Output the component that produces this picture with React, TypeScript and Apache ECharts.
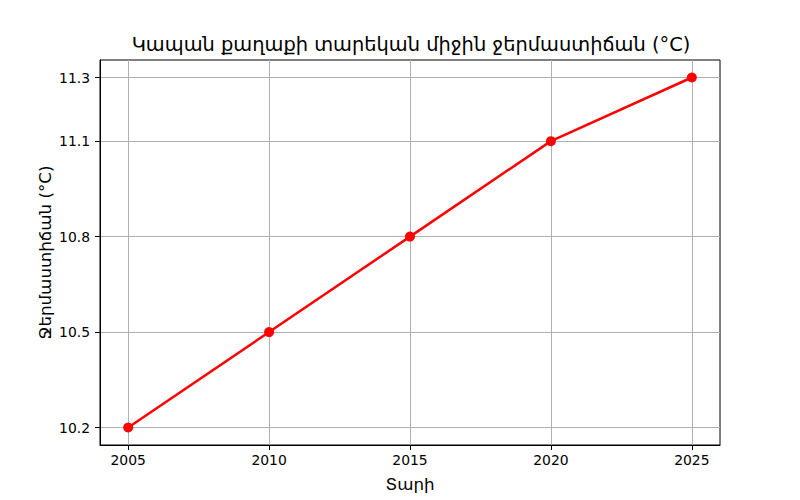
import React, { useEffect, useRef } from "react";
import * as echarts from "echarts";

const years = [2005, 2010, 2015, 2020, 2025];
const temps = [10.2, 10.5, 10.8, 11.1, 11.3];
const yTicks = [10.2, 10.5, 10.8, 11.1, 11.3];
const xTicks = [2005, 2010, 2015, 2020, 2025];
const titleText = "Կապան քաղաքի տարեկան միջին ջերմաստիճան (°C)";
const xName = "Տարի";
const yName = "Ջերմաստիճան (°C)";

const FONT = "DejaVu Sans";

export default function App() {
  const ref = useRef<HTMLDivElement>(null);
  useEffect(() => {
    if (!ref.current) return;
    const chart = echarts.init(ref.current, undefined, { renderer: "svg" });
    chart.setOption({
      animation: false,
      backgroundColor: "#fff",
      title: {
        text: titleText,
        left: 406,
        textAlign: "center",
        top: 30,
        textStyle: { fontFamily: FONT, fontSize: 19.4, fontWeight: "normal", color: "#000" },
      },
      grid: {
        left: 100,
        right: 80,
        top: 60,
        bottom: 55,
        outerBoundsMode: "none",
        show: true,
        borderColor: "#000",
        borderWidth: 1,
        backgroundColor: "transparent",
      },
      xAxis: {
        type: "value",
        min: 2004,
        max: 2026,
        name: xName,
        nameLocation: "middle",
        nameGap: 30,
        nameMoveOverlap: false,
        nameTextStyle: { fontFamily: FONT, fontSize: 16.7, color: "#000" },
        axisLine: { show: true, lineStyle: { color: "#000" } },
        axisTick: { show: true, length: 5, lineStyle: { color: "#000" }, customValues: xTicks },
        axisLabel: { fontFamily: FONT, fontSize: 13.9, color: "#000", margin: 8, customValues: xTicks, formatter: (v: number) => String(v) },
        splitLine: { show: true, lineStyle: { color: "#b0b0b0", width: 1 } },
      },
      yAxis: {
        type: "value",
        min: 10.145,
        max: 11.355,
        name: yName,
        nameLocation: "middle",
        nameGap: 47,
        nameMoveOverlap: false,
        nameTextStyle: { fontFamily: FONT, fontSize: 16.7, color: "#000" },
        axisLine: { show: true, lineStyle: { color: "#000" } },
        axisTick: { show: true, length: 5, lineStyle: { color: "#000" }, customValues: yTicks },
        axisLabel: { fontFamily: FONT, fontSize: 13.9, color: "#000", margin: 10, customValues: yTicks, formatter: (v: number) => v.toFixed(1) },
        splitLine: { show: true, lineStyle: { color: "#b0b0b0", width: 1 } },
      },
      series: [
        {
          type: "line",
          data: years.map((y, i) => [y, temps[i]]),
          symbol: "circle",
          symbolSize: 10,
          lineStyle: { color: "#ff0000", width: 2.5 },
          itemStyle: { color: "#ff0000" },
        },
      ],
    });
    return () => chart.dispose();
  }, []);
  return <div ref={ref} style={{ position: "fixed", left: 0, top: 0, width: 800, height: 500 }} />;
}
